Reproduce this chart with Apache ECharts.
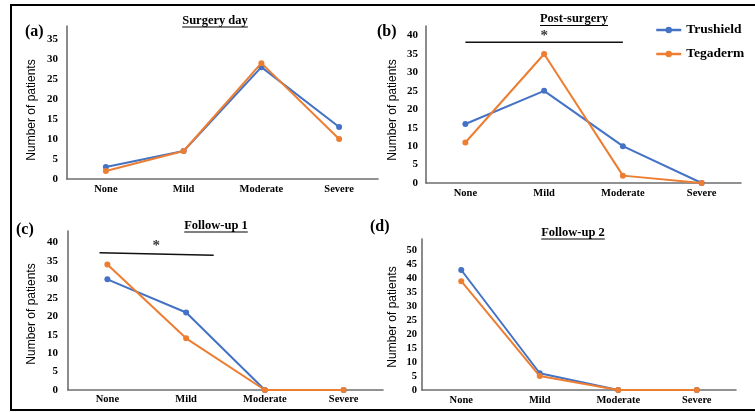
<!DOCTYPE html>
<html><head><meta charset="utf-8">
<script src="https://cdn.jsdelivr.net/npm/echarts@6/dist/echarts.min.js"></script>
<style>html,body{margin:0;padding:0;background:#fff}#c{width:755px;height:412px}</style>
</head><body><div id="c"></div>
<script>
// ---- data ----
const categories = ['None', 'Mild', 'Moderate', 'Severe'];
const panelTitles = ['Surgery day', 'Post-surgery', 'Follow-up 1', 'Follow-up 2'];
const panelLetters = ['(a)', '(b)', '(c)', '(d)'];
const seriesNames = ['Trushield', 'Tegaderm'];
const trushieldSurgery = [3, 7, 28, 13];
const tegadermSurgery = [2, 7, 29, 10];
const trushieldPost = [16, 25, 10, 0];
const tegadermPost = [11, 35, 2, 0];
const trushieldFollow1 = [30, 21, 0, 0];
const tegadermFollow1 = [34, 14, 0, 0];
const trushieldFollow2 = [43, 6, 0, 0];
const tegadermFollow2 = [39, 5, 0, 0];
const yTickStep = 5;
const yAxisTop = [38.3, 42.6, 43.1, 54.1];
// significance annotations (category index, value)
const sigLinePost = [[0, 38.2], [2, 38.2]];
const sigStarPost = [[1, 39.9]];
const sigLineFollow1 = [[-0.1, 37.2], [1.35, 36.5]];
const sigStarFollow1 = [[0.62, 38.9]];

// ---- layout ----
const BLUE = '#4472C4', ORANGE = '#ED7D31';
const SERIF = '"Liberation Serif", "Times New Roman", serif';
const SANS = '"Liberation Sans", Arial, sans-serif';
const grids = [
  {left: 67, top: 26, width: 311, height: 153},
  {left: 426, top: 26, width: 315, height: 157},
  {left: 68, top: 231, width: 315, height: 159},
  {left: 422, top: 239, width: 314, height: 151}
];
const yLabelMargin = [9, 8, 10, 5];
const xLabelMargin = [5, 5, 4, 5];
const titlePos = [[215, 20.5], [574, 19], [216, 225.5], [573, 232.5]];
const letterPos = [[25, 32], [377, 32], [16, 229.5], [370, 227]];
const yNamePos = [[32, 110], [393, 110], [32, 314], [393, 317]];

const panelData = [
  [trushieldSurgery, tegadermSurgery],
  [trushieldPost, tegadermPost],
  [trushieldFollow1, tegadermFollow1],
  [trushieldFollow2, tegadermFollow2]
];

const xAxis = [], yAxis = [], series = [];
grids.forEach((g, i) => {
  xAxis.push({
    type: 'category', gridIndex: i, data: categories, boundaryGap: true,
    axisLine: {onZero: false, lineStyle: {color: '#6e6e6e', width: 1.6}},
    axisTick: {show: false},
    axisLabel: {color: '#000', fontFamily: SERIF, fontWeight: 'bold', fontSize: 10.5, margin: xLabelMargin[i]}
  });
  yAxis.push({
    type: 'value', gridIndex: i, min: 0, max: yAxisTop[i], interval: yTickStep,
    axisLine: {show: true, onZero: false, lineStyle: {color: '#6e6e6e', width: 1.6}},
    axisTick: {show: false}, splitLine: {show: false},
    axisLabel: {color: '#000', fontFamily: SERIF, fontWeight: 'bold', fontSize: i === 3 ? 10.5 : 11,
      margin: yLabelMargin[i], formatter: v => (v % yTickStep === 0 ? String(v) : '')}
  });
  panelData[i].forEach((d, k) => {
    series.push({
      type: 'line', name: seriesNames[k], xAxisIndex: i, yAxisIndex: i, data: d,
      color: k === 0 ? BLUE : ORANGE, symbol: 'circle', symbolSize: 6,
      lineStyle: {width: 2}, z: 3 + k, animation: false
    });
  });
});
// hidden value axes for annotations in panels (b) and (c)
[1, 2].forEach(i => {
  xAxis.push({type: 'value', gridIndex: i, min: -0.5, max: 3.5, show: false,
    axisLine: {onZero: false}});
});
function sigSeries(xIdx, yIdx, line, star) {
  return [
    {type: 'line', xAxisIndex: xIdx, yAxisIndex: yIdx, data: line, symbol: 'none',
      lineStyle: {color: '#111', width: 1.5}, silent: true, animation: false},
    {type: 'scatter', xAxisIndex: xIdx, yAxisIndex: yIdx, data: star, symbolSize: 0,
      label: {show: true, position: 'inside', formatter: '*', color: '#000',
        fontFamily: SERIF, fontWeight: 'bold', fontSize: 15}, silent: true, animation: false}
  ];
}
series.push(...sigSeries(4, 1, sigLinePost, sigStarPost));
series.push(...sigSeries(5, 2, sigLineFollow1, sigStarFollow1));

// graphics
const mctx = document.createElement('canvas').getContext('2d');
const titleFont = 'bold 12.5px ' + SERIF;
mctx.font = titleFont;
const graphic = [{
  type: 'rect', shape: {x: 11, y: 5, width: 800, height: 405},
  style: {fill: 'none', stroke: '#000', lineWidth: 2}, silent: true
}];
panelTitles.forEach((t, i) => {
  const [x, y] = titlePos[i];
  const w = mctx.measureText(t).width;
  graphic.push({type: 'text', x: x, y: y, style: {text: t, font: titleFont, fill: '#000',
    textAlign: 'center', textVerticalAlign: 'middle', verticalAlign: 'middle'}});
  graphic.push({type: 'line', shape: {x1: x - w / 2, y1: y + 6.5, x2: x + w / 2, y2: y + 6.5},
    style: {stroke: '#000', lineWidth: 1}});
});
panelLetters.forEach((t, i) => {
  const [x, y] = letterPos[i];
  graphic.push({type: 'text', x: x, y: y, style: {text: t, font: 'bold 16px ' + SERIF, fill: '#000',
    textAlign: 'left', textVerticalAlign: 'middle', verticalAlign: 'middle'}});
});
yNamePos.forEach(([x, y]) => {
  graphic.push({type: 'text', x: x, y: y, rotation: Math.PI / 2, style: {text: 'Number of patients',
    font: '12px ' + SANS, fill: '#000', textAlign: 'center', textVerticalAlign: 'middle', verticalAlign: 'middle'}});
});

const chart = echarts.init(document.getElementById('c'));
chart.setOption({
  animation: false,
  backgroundColor: '#fff',
  grid: grids,
  xAxis: xAxis,
  yAxis: yAxis,
  legend: {
    data: seriesNames, orient: 'vertical', left: 650, top: 18, itemWidth: 25, itemHeight: 8,
    itemGap: 10, lineStyle: {width: 2.5},
    textStyle: {color: '#000', fontFamily: SERIF, fontWeight: 'bold', fontSize: 13.5}
  },
  series: series,
  graphic: graphic
});
</script></body></html>
